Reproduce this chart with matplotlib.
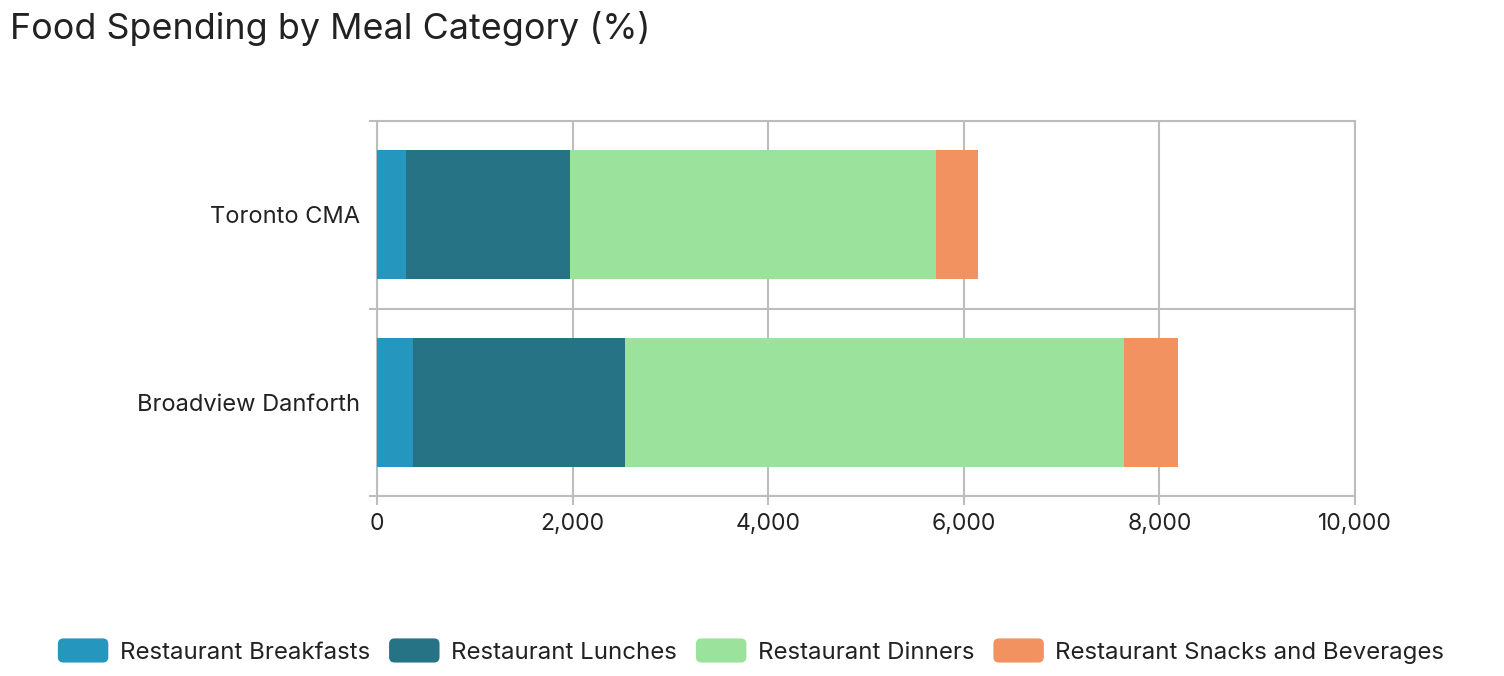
import matplotlib
matplotlib.use("Agg")
import matplotlib.pyplot as plt
from matplotlib.patches import FancyBboxPatch
from matplotlib.legend_handler import HandlerPatch
import matplotlib.ticker as mticker

plt.rcParams['font.family'] = ['Inter', 'DejaVu Sans']

# data
regions = ["Toronto CMA", "Broadview Danforth"]
categories = ["Restaurant Breakfasts", "Restaurant Lunches",
              "Restaurant Dinners", "Restaurant Snacks and Beverages"]
breakfasts = [300, 365]
lunches = [1675, 2170]
dinners = [3745, 5105]
snacks = [430, 555]
colors = ["#2596be", "#267386", "#9be29c", "#f29260"]
x_ticks = [0, 2000, 4000, 6000, 8000, 10000]

grid_col = "#bdbdbd"
text_col = "#222222"


class RoundHandler(HandlerPatch):
    def create_artists(self, legend, orig_handle, xdescent, ydescent,
                       width, height, fontsize, trans):
        p = FancyBboxPatch((-xdescent, -ydescent), width, height,
                           boxstyle="round,pad=0,rounding_size=4",
                           facecolor=orig_handle.get_facecolor(),
                           edgecolor="none", transform=trans)
        return [p]


fig = plt.figure(figsize=(15.04, 6.76), dpi=100)
ax = fig.add_axes([377 / 1504, 1 - 496 / 676, (1355 - 377) / 1504, (496 - 121) / 676])

ypos = list(range(len(regions)))
left = [0] * len(regions)
bars = []
for vals, name, c in zip([breakfasts, lunches, dinners, snacks], categories, colors):
    b = ax.barh(ypos, vals, left=left, height=0.69, color=c, label=name,
                edgecolor="none", zorder=3)
    bars.append(b)
    left = [l + v for l, v in zip(left, vals)]

ax.set_xlim(0, 10000)
ax.set_ylim(1.5, -0.5)
ax.set_xticks(x_ticks)
ax.xaxis.set_major_formatter(mticker.FuncFormatter(lambda v, p: f"{int(v):,}"))
ax.set_yticks(ypos)
ax.set_yticklabels(regions)
ax.set_yticks([-0.5, 0.5, 1.5], minor=True)

ax.grid(axis="x", color=grid_col, linewidth=1.5, zorder=0)
ax.grid(axis="y", which="minor", color=grid_col, linewidth=1.5, zorder=0)
ax.tick_params(axis="y", which="major", length=0, pad=12, labelsize=17, labelcolor=text_col)
ax.tick_params(axis="y", which="minor", length=5.5, width=1.5, color=grid_col)
ax.tick_params(axis="x", length=6.5, width=1.5, color=grid_col, pad=6,
               labelsize=16.5, labelcolor=text_col)
for s in ax.spines.values():
    s.set_color(grid_col)
    s.set_linewidth(1.5)

fig.text(10 / 1504, 1 - 28 / 676, "Food Spending by Meal Category (%)",
         fontsize=25.8, color=text_col, va="center", ha="left")

handles = [b.patches[0] for b in bars]
fig.legend(handles, categories, loc="center", bbox_to_anchor=(751 / 1504, 1 - 651 / 676),
           ncol=4, frameon=False, fontsize=17.3, handlelength=2.1, handleheight=1.17,
           handletextpad=0.47, columnspacing=0.8,
           handler_map={h: RoundHandler() for h in handles},
           labelcolor=text_col)

fig.savefig("out.png", dpi=100)
